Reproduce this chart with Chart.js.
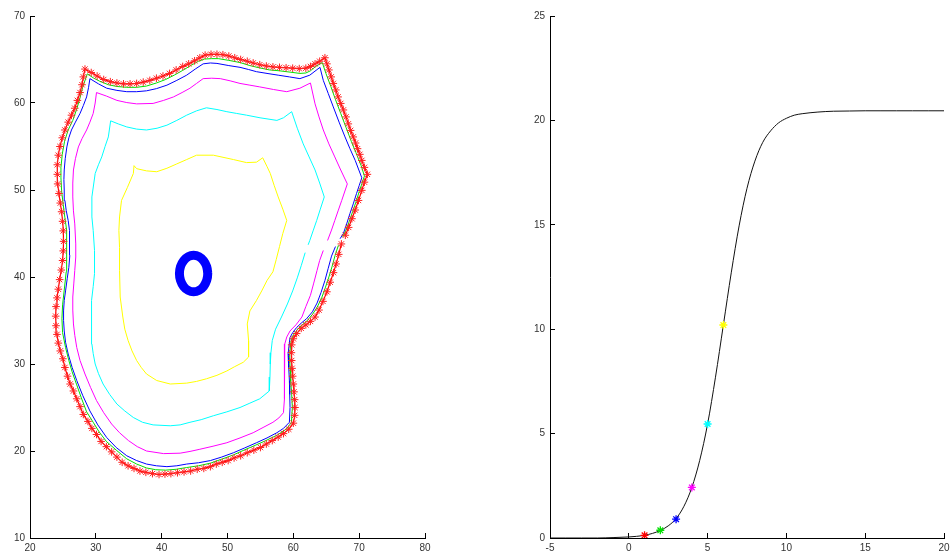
<!DOCTYPE html>
<html><head><meta charset="utf-8">
<script src="https://cdn.jsdelivr.net/npm/chart.js@4.4.1/dist/chart.umd.min.js"></script>
<style>
html,body{margin:0;padding:0;background:#fff;overflow:hidden;width:950px;height:558px;}
#c1{position:absolute;left:0;top:0;}
#c2{position:absolute;left:475px;top:0;}
</style></head><body>
<canvas id="c1" width="475" height="558"></canvas>
<canvas id="c2" width="485" height="558"></canvas>
<script>
// ---------- tick labels ----------
const leftXTicks = [20,30,40,50,60,70,80];
const leftYTicks = [10,20,30,40,50,60,70];
const rightXTicks = [-5,0,5,10,15,20];
const rightYTicks = [0,5,10,15,20,25];

// ---------- left panel: contour lines [x, y] ----------
const contourRed = [[67.3,43.8],[66.9,42.6],[66.5,41.5],[66.1,40.5],[65.6,39.4],[65.1,38.3],[64.5,37.2],[63.9,36.2],[63.3,35.4],[62.6,34.9],[61.9,34.5],[61.2,34.1],[60.5,33.5],[60.0,32.9],[59.75,32.2],[59.7,31.3],[59.75,30.4],[59.8,29.5],[59.9,28.6],[60.0,27.7],[60.1,26.8],[60.2,25.9],[60.25,25.0],[60.2,24.1],[60.0,23.2],[59.3,22.5],[58.5,22.0],[57.7,21.6],[56.8,21.2],[55.9,20.8],[55.0,20.4],[54.0,20.1],[53.0,19.8],[52.0,19.45],[51.0,19.2],[50.1,18.9],[49.2,18.7],[48.3,18.5],[47.4,18.2],[46.4,18.0],[45.4,17.9],[44.4,17.7],[43.4,17.6],[42.4,17.5],[41.4,17.4],[40.5,17.35],[39.6,17.3],[38.6,17.4],[37.6,17.55],[36.7,17.7],[35.8,18.0],[34.9,18.3],[34.0,18.7],[33.2,19.3],[32.4,19.9],[31.6,20.5],[30.8,21.1],[30.1,21.9],[29.4,22.6],[28.8,23.4],[28.1,24.2],[27.6,25.1],[27.1,26.0],[26.6,26.9],[26.1,27.7],[25.7,28.6],[25.3,29.6],[25.0,30.6],[24.6,31.5],[24.3,32.4],[24.1,33.4],[23.95,34.4],[23.9,35.5],[23.95,36.6],[24.1,37.6],[24.3,38.6],[24.5,39.7],[24.75,40.8],[24.95,41.9],[25.05,43.0],[25.1,44.1],[25.05,45.3],[24.95,46.4],[24.8,47.5],[24.6,48.5],[24.4,49.6],[24.2,50.7],[24.15,51.8],[24.15,52.9],[24.3,54.0],[24.55,55.0],[24.9,56.0],[25.3,56.9],[25.8,57.8],[26.3,58.6],[26.8,59.4],[27.2,60.3],[27.6,61.2],[27.9,62.1],[28.1,63.0],[28.35,63.9],[29.3,63.5],[30.2,63.1],[31.2,62.7],[32.2,62.45],[33.2,62.3],[34.2,62.2],[35.2,62.2],[36.2,62.25],[37.2,62.4],[38.2,62.6],[39.2,62.85],[40.2,63.1],[41.2,63.4],[42.2,63.8],[43.2,64.2],[44.1,64.5],[45.0,64.85],[45.8,65.2],[46.6,65.5],[47.5,65.6],[48.4,65.6],[49.3,65.55],[50.2,65.4],[51.1,65.2],[52.0,65.0],[53.0,64.8],[53.9,64.6],[54.9,64.4],[55.9,64.25],[56.9,64.15],[57.9,64.1],[58.9,64.05],[59.9,64.0],[60.9,63.95],[61.9,64.0],[62.6,64.2],[63.3,64.5],[64.0,64.8],[64.8,65.2],[65.1,64.5],[65.4,63.8],[65.75,63.0],[66.07,62.25],[66.45,61.5],[66.8,60.7],[67.2,59.95],[67.6,59.2],[68.0,58.4],[68.35,57.6],[68.7,56.85],[69.1,56.1],[69.45,55.4],[69.75,54.75],[70.1,54.1],[70.4,53.4],[70.8,52.6],[71.25,51.8],[70.8,50.9],[70.4,49.96],[69.9,48.8],[69.4,47.7],[68.9,46.7],[68.4,45.7],[67.9,44.8]];

const contourGreen = [[66.85,43.65],[66.35,42.5],[65.9,41.25],[65.4,40.0],[64.85,38.75],[64.3,37.6],[63.6,36.5],[62.9,35.7],[62.0,34.9],[61.2,34.4],[60.5,33.85],[59.9,33.2],[59.65,32.6],[59.45,31.2],[59.5,29.6],[59.6,28.0],[59.75,26.5],[59.85,25.0],[59.7,23.25],[58.9,22.5],[57.6,21.85],[55.7,21.15],[54.2,20.65],[52.5,20.1],[50.9,19.55],[49.1,19.05],[47.4,18.6],[45.6,18.3],[43.8,18.1],[42.2,17.9],[40.6,17.8],[39.1,17.85],[37.7,18.05],[36.2,18.5],[34.7,19.1],[33.1,20.1],[31.6,21.1],[30.5,22.2],[29.6,23.3],[28.6,24.5],[27.8,26.1],[27.1,27.6],[26.4,29.1],[25.9,30.4],[25.4,31.9],[24.95,33.6],[24.85,35.2],[24.95,36.8],[25.2,38.5],[25.5,40.6],[25.6,42.5],[25.6,43.9],[25.5,45.4],[25.3,46.8],[25.05,48.3],[24.8,49.9],[24.7,51.4],[24.7,52.6],[24.9,54.1],[25.25,55.6],[25.8,56.9],[26.5,58.0],[27.1,59.3],[27.6,60.6],[28.0,61.8],[28.7,63.35],[29.7,62.85],[30.6,62.5],[31.9,62.1],[33.2,61.9],[34.7,61.8],[36.2,61.8],[37.7,61.95],[39.2,62.3],[40.6,62.7],[41.9,63.2],[43.2,63.75],[44.4,64.3],[45.6,64.8],[46.5,65.05],[47.6,65.1],[48.6,65.1],[50.2,64.9],[51.9,64.65],[53.4,64.3],[54.8,64.05],[56.4,63.8],[57.9,63.7],[59.5,63.55],[61.0,63.4],[61.9,63.45],[62.6,63.7],[63.4,64.2],[64.4,64.65],[64.95,63.4],[65.7,61.9],[66.4,60.4],[67.2,58.8],[68.0,57.2],[68.8,55.6],[69.5,54.3],[70.3,52.8],[70.8,51.6],[70.4,50.7],[70.0,49.8],[69.5,48.6],[69.0,47.5],[68.5,46.4],[68.0,45.4],[67.5,44.6]];

const contourBlue = [[66.4,43.5],[65.8,42.4],[65.3,41.0],[64.8,39.6],[64.2,38.2],[63.6,37.0],[62.9,36.0],[62.0,35.2],[61.2,34.7],[60.5,34.2],[59.9,33.6],[59.5,33.05],[59.2,31.15],[59.3,29.6],[59.4,28.1],[59.45,26.5],[59.5,25.0],[59.4,23.3],[58.5,22.6],[57.5,22.1],[56.0,21.5],[54.4,20.95],[52.6,20.35],[50.9,19.8],[49.1,19.3],[47.4,18.9],[45.6,18.65],[43.8,18.5],[42.3,18.3],[40.8,18.2],[39.2,18.3],[37.7,18.5],[36.2,18.9],[34.7,19.45],[33.1,20.4],[31.65,21.55],[30.3,23.0],[29.1,24.6],[28.0,26.4],[27.1,28.1],[26.4,29.6],[25.8,31.15],[25.4,32.5],[25.2,33.8],[25.1,35.0],[25.1,36.1],[25.2,37.3],[25.4,38.4],[25.65,39.8],[25.9,41.1],[26.05,42.5],[26.05,43.8],[25.95,45.35],[25.8,46.5],[25.5,47.65],[25.3,48.8],[25.2,50.0],[25.15,51.2],[25.2,52.3],[25.35,53.6],[25.6,54.95],[25.9,56.0],[26.3,56.9],[26.9,57.8],[27.6,58.8],[28.1,59.7],[28.6,60.7],[28.9,61.8],[29.1,62.8],[30.4,62.2],[31.65,61.7],[33.2,61.45],[34.7,61.3],[36.2,61.3],[37.7,61.4],[39.2,61.65],[40.8,62.05],[42.3,62.6],[43.8,63.2],[45.1,63.9],[46.3,64.5],[47.4,64.6],[48.4,64.55],[50.2,64.3],[51.9,64.1],[53.2,63.85],[54.4,63.6],[56.0,63.4],[57.7,63.2],[59.4,63.0],[61.0,62.8],[62.5,63.2],[64.05,64.1],[64.55,62.6],[65.3,61.1],[66.07,59.55],[66.95,57.8],[67.85,56.1],[68.6,54.75],[69.4,53.4],[70.4,51.4],[70.0,50.5],[69.6,49.6],[69.1,48.4],[68.6,47.3],[68.1,46.1],[67.6,45.0],[67.1,44.4]];

const contourMagenta = [[64.55,43.05],[64.0,41.9],[63.6,40.75],[63.1,39.3],[62.6,37.9],[61.9,36.6],[61.3,35.4],[60.4,34.5],[59.5,33.8],[59.0,33.1],[58.7,32.3],[58.65,30.0],[58.7,27.7],[58.6,26.0],[58.5,24.4],[57.8,23.8],[56.9,23.3],[55.4,22.7],[53.9,22.1],[51.9,21.5],[49.9,20.95],[47.8,20.55],[45.8,20.2],[44.3,19.95],[42.8,19.75],[40.3,19.7],[37.7,20.0],[36.3,20.5],[34.95,21.2],[33.6,22.1],[32.4,23.1],[31.2,24.4],[30.1,25.8],[29.2,27.3],[28.35,28.85],[27.6,30.4],[27.1,31.9],[26.8,33.3],[26.6,34.6],[26.5,36.2],[26.5,37.7],[26.65,39.2],[26.8,40.75],[26.95,42.3],[26.95,43.8],[26.8,46.1],[26.6,47.6],[26.5,49.2],[26.5,50.8],[26.6,52.3],[26.9,53.6],[27.35,54.95],[27.9,55.9],[28.6,56.9],[29.1,57.8],[29.6,58.8],[29.9,60.0],[30.1,61.2],[31.6,60.8],[33.2,60.3],[34.7,60.05],[36.2,59.9],[38.7,59.95],[40.3,60.3],[41.8,60.7],[43.1,61.2],[44.3,61.7],[45.3,62.25],[46.3,62.8],[47.6,62.85],[48.9,62.8],[50.4,62.55],[51.9,62.25],[53.4,62.05],[54.9,61.85],[57.0,61.55],[59.0,61.3],[61.0,61.7],[62.6,62.3],[63.3,59.9],[63.9,58.4],[64.55,56.9],[65.4,55.3],[66.3,53.8],[67.2,52.3],[68.2,50.7],[67.35,48.8],[66.8,47.6],[66.3,46.5],[65.8,45.4],[65.2,44.2]];

const contourCyan = [[61.8,42.8],[61.2,41.3],[60.6,39.9],[59.9,38.4],[59.1,36.9],[58.2,35.4],[57.3,34.0],[56.8,32.7],[56.6,31.3],[56.5,30.0],[56.45,28.5],[56.35,26.9],[54.9,26.0],[53.4,25.5],[51.9,25.0],[49.9,24.5],[47.85,24.05],[46.0,23.6],[44.3,23.3],[42.8,23.0],[41.3,22.9],[38.7,23.0],[37.1,23.3],[35.7,23.85],[34.4,24.6],[33.2,25.4],[32.1,26.5],[31.1,27.7],[30.4,28.9],[29.9,30.0],[29.6,31.2],[29.4,32.3],[29.3,34.6],[29.4,37.3],[29.6,38.9],[29.8,40.4],[29.8,43.05],[29.6,45.35],[29.4,46.9],[29.4,49.2],[29.9,51.9],[30.4,52.9],[30.9,53.8],[31.4,55.0],[31.9,56.1],[32.25,57.95],[33.4,57.6],[34.7,57.25],[36.2,57.0],[37.7,56.9],[39.3,57.1],[40.8,57.45],[42.3,58.0],[43.8,58.6],[45.3,59.1],[46.8,59.45],[48.4,59.25],[49.9,59.0],[51.4,58.8],[52.9,58.6],[54.94,58.3],[57.5,58.0],[58.5,58.3],[59.75,59.0],[60.6,57.1],[61.5,55.3],[62.4,53.8],[63.3,52.3],[64.0,50.8],[64.7,49.2],[64.1,47.8],[63.55,46.5],[63.0,45.3],[62.5,44.2],[62.25,43.7]];

const contourYellow = [[35.8,52.8],[36.2,52.45],[37.7,52.2],[39.25,52.1],[40.8,52.5],[42.3,53.0],[43.8,53.5],[45.3,54.0],[47.85,54.0],[50.9,53.5],[52.9,53.15],[54.4,53.2],[55.35,53.7],[56.0,52.7],[56.5,51.9],[57.1,50.5],[57.7,49.2],[58.4,47.8],[59.0,46.5],[58.4,45.0],[57.9,43.5],[57.4,42.0],[56.9,40.6],[56.0,39.6],[55.2,38.4],[54.4,37.3],[53.4,36.1],[53.0,34.6],[53.2,32.7],[53.2,30.8],[52.4,30.2],[51.1,29.7],[49.9,29.2],[48.4,28.7],[46.8,28.3],[45.3,28.0],[43.8,27.8],[41.3,27.7],[39.25,28.1],[37.7,28.85],[36.9,29.6],[36.2,30.4],[35.5,31.5],[34.9,32.7],[34.4,34.0],[34.1,35.4],[33.7,37.7],[33.6,40.75],[33.6,43.4],[33.5,45.35],[33.6,46.9],[33.9,48.8],[34.8,50.3],[35.7,51.9],[35.8,52.8]];

const centerRing = [[47.0,40.4],[46.84,41.2],[46.37,41.88],[45.67,42.34],[44.85,42.5],[44.03,42.34],[43.33,41.88],[42.86,41.2],[42.7,40.4],[42.86,39.6],[43.33,38.92],[44.03,38.46],[44.85,38.3],[45.67,38.46],[46.37,38.92],[46.84,39.6],[47.0,40.4],[46.84,41.2]];

// ---------- right panel ----------
const curveX = [-5,-4,-3,-2,-1,0,0.5,1,1.5,2,2.5,3,3.5,4,4.5,5,5.5,6,6.5,7,7.5,8,8.5,9,9.5,10,10.5,11,12,13,14,15,16,17,18,19,20];
const curveY = [0,0,0,0,0.02,0.05,0.08,0.13,0.22,0.36,0.58,0.93,1.52,2.42,3.72,5.46,7.7,10.2,12.7,14.95,16.75,18.05,18.95,19.5,19.88,20.1,20.25,20.32,20.4,20.44,20.45,20.46,20.46,20.46,20.46,20.46,20.46];
const markerX = [1,2,3,4,5,6];
const markerY = [0.13,0.37,0.9,2.42,5.46,10.2];
const markerColors = ['#ff0000','#00e000','#0000ff','#ff00ff','#00ffff','#ffff00'];

// ---------- helpers ----------
const toXY = a => a.map(p => ({x:p[0], y:p[1]}));
const FONT = {family:'"Liberation Sans", Arial, sans-serif', size:10};

function axis(ticksArr, pos, size, pad) {
  return {
    type:'linear', position:pos,
    min: ticksArr[0], max: ticksArr[ticksArr.length-1],
    afterBuildTicks: s => { s.ticks = ticksArr.map(v => ({value:v})); },
    afterFit: s => { if (pos === 'bottom') s.height = size; else s.width = size; },
    grid: {display:true, drawOnChartArea:false, drawTicks:true, tickLength:-5, color:'#000', lineWidth:1},
    border: {display:true, color:'#000', width:1},
    ticks: {color:'#333', font:FONT, padding:pad, maxRotation:0, minRotation:0, autoSkip:false,
            callback: v => String(v)}
  };
}

function lineDs(data, color, width) {
  return {data: toXY(data), showLine:true, borderColor:color, backgroundColor:color,
          borderWidth:width, pointRadius:0, pointHoverRadius:0, fill:false, tension:0};
}

Chart.defaults.animation = false;

// Left chart
const redDs = lineDs(contourRed, '#ff0000', 1.2);
redDs.pointRadius = 3.8; redDs.pointStyle = 'star'; redDs.pointBorderColor = '#ff2020';
redDs.pointBorderWidth = 1; redDs.pointBackgroundColor = '#ff0000';
const ringDs = lineDs(centerRing, '#0000ff', 9);
ringDs.tension = 0.4; ringDs.borderJoinStyle = 'round';

new Chart(document.getElementById('c1'), {
  type:'scatter',
  data:{datasets:[
    redDs,
    lineDs(contourGreen, '#00e000', 1),
    lineDs(contourBlue, '#0000ff', 1),
    lineDs(contourMagenta, '#ff00ff', 1),
    lineDs(contourCyan, '#00ffff', 1),
    lineDs(contourYellow, '#ffff00', 1),
    ringDs
  ]},
  options:{
    responsive:false, devicePixelRatio:1, animation:false,
    layout:{padding:{left:0, top:16, right:50, bottom:0}},
    plugins:{legend:{display:false}, tooltip:{enabled:false}},
    events:[],
    scales:{
      x: axis(leftXTicks, 'bottom', 20, 9),
      y: axis(leftYTicks, 'left', 30, 10)
    }
  }
});

// Right chart
new Chart(document.getElementById('c2'), {
  type:'scatter',
  data:{datasets:[
    {data: markerX.map((x,i) => ({x, y:markerY[i]})), showLine:false,
     pointStyle:'star', pointRadius:4, pointBorderWidth:1.3,
     pointBorderColor: markerColors, pointBackgroundColor: markerColors},
    {data: curveX.map((x,i) => ({x, y:curveY[i]})), showLine:true,
     borderColor:'#111', borderWidth:1, pointRadius:0, cubicInterpolationMode:'monotone', fill:false}
  ]},
  options:{
    responsive:false, devicePixelRatio:1, animation:false,
    layout:{padding:{left:0, top:16, right:16, bottom:0}},
    plugins:{legend:{display:false}, tooltip:{enabled:false}},
    events:[],
    scales:{
      x: axis(rightXTicks, 'bottom', 20, 9),
      y: axis(rightYTicks, 'left', 75, 10)
    }
  }
});
</script>
</body></html>
